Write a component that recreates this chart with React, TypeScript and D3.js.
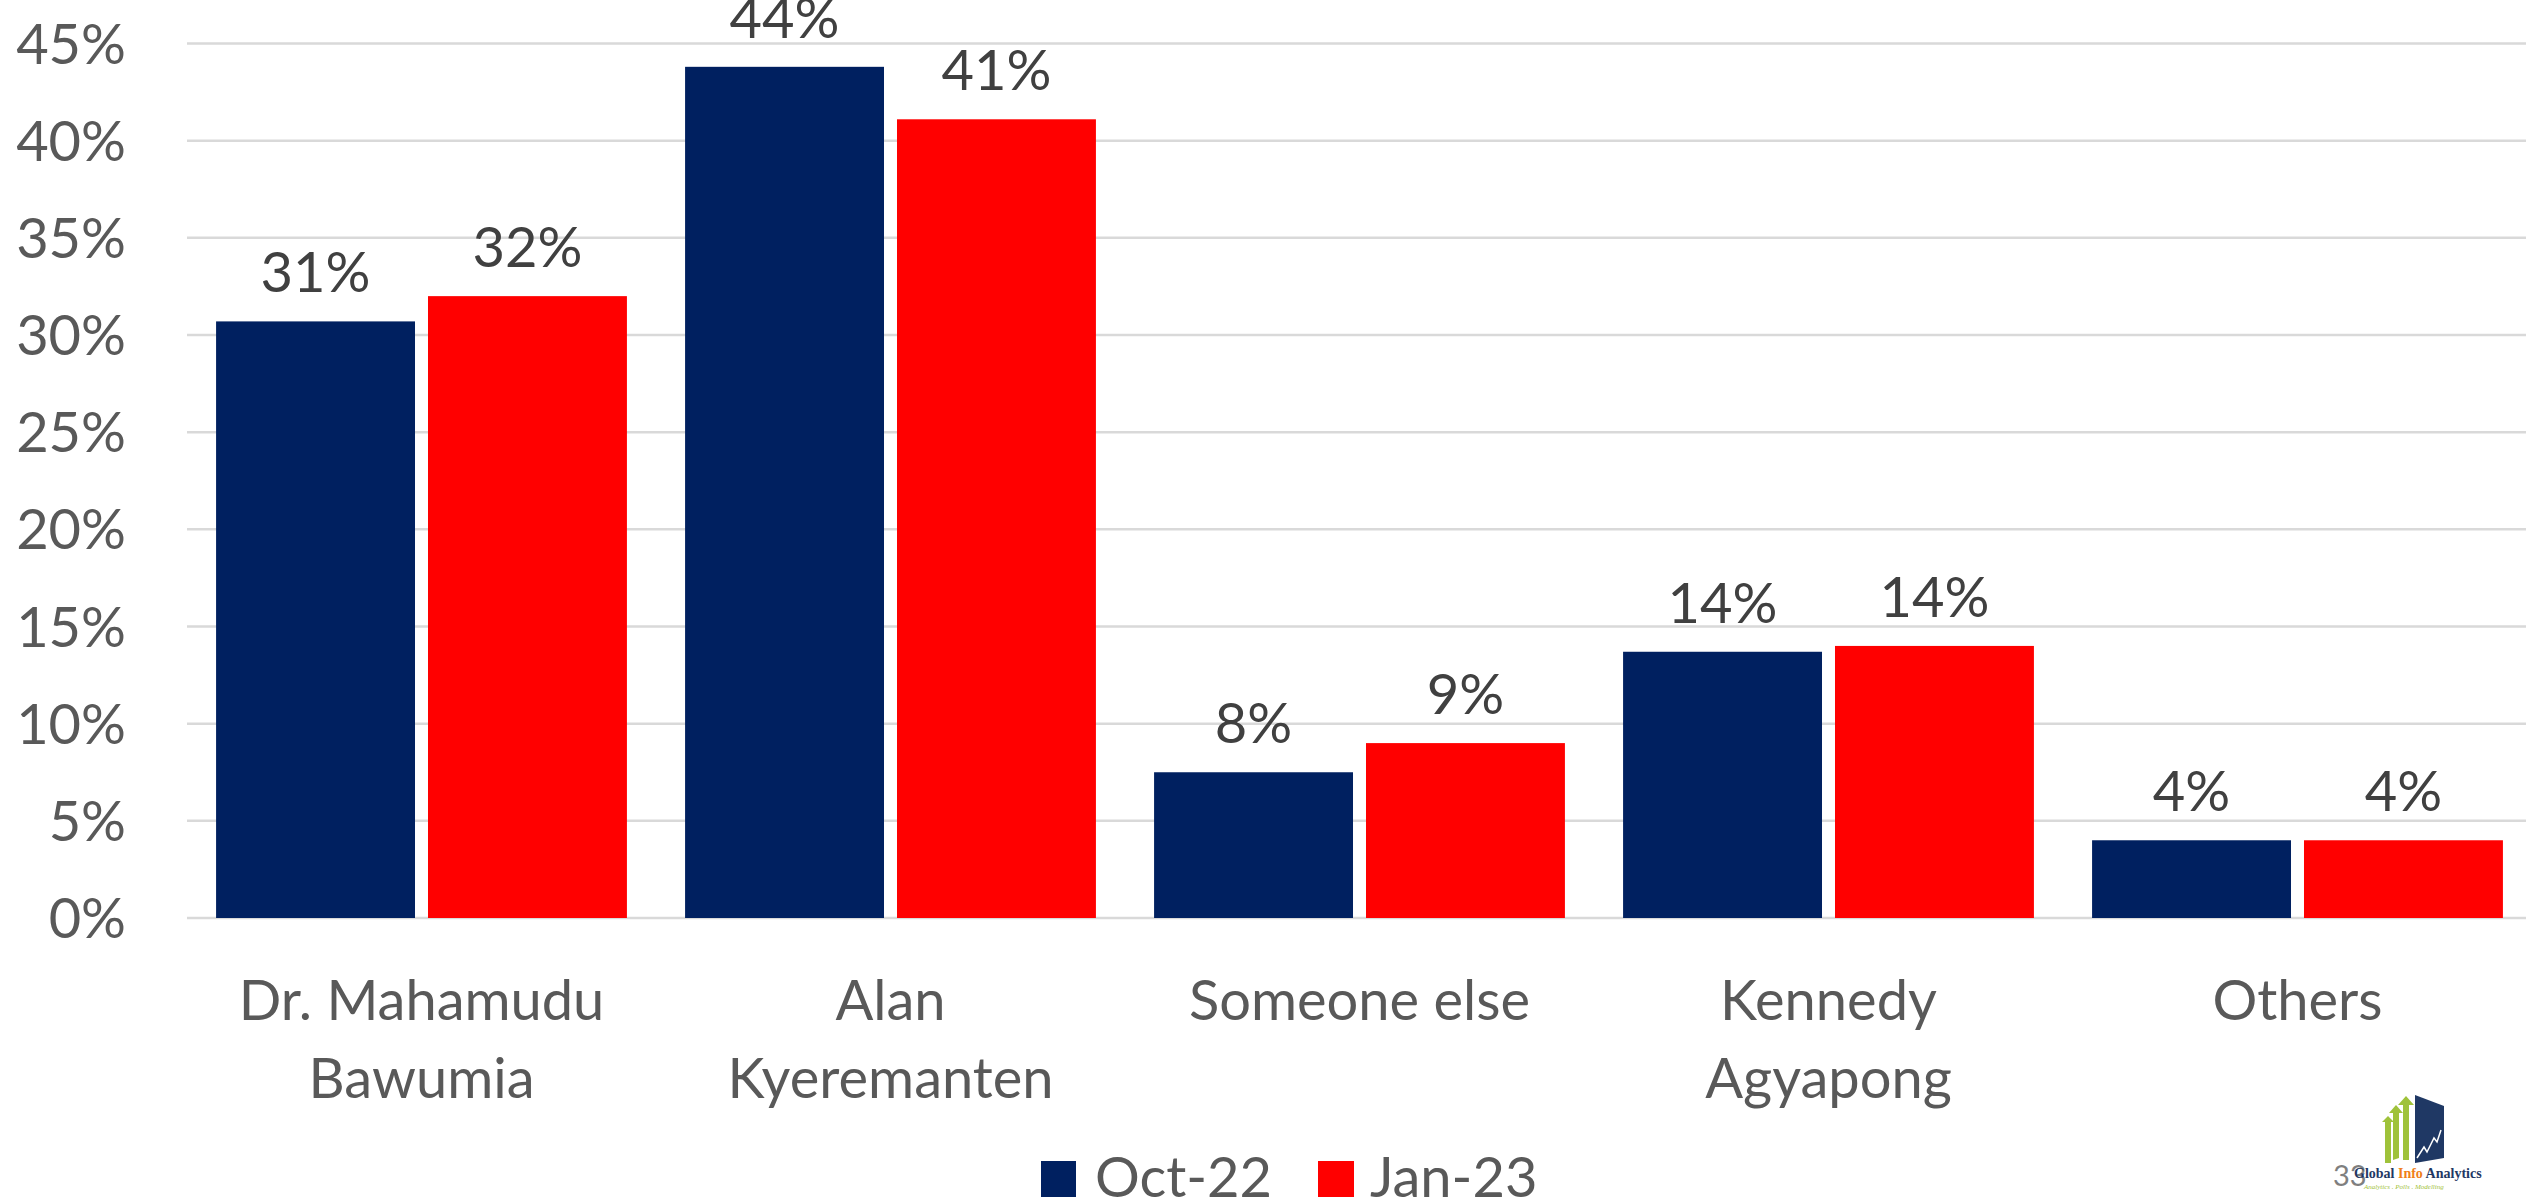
import React from "react";
import * as d3 from "d3";

const categories = [
  ["Dr. Mahamudu", "Bawumia"],
  ["Alan", "Kyeremanten"],
  ["Someone else"],
  ["Kennedy", "Agyapong"],
  ["Others"],
];
const seriesNames = ["Oct-22", "Jan-23"];
const oct22 = [30.7, 43.8, 7.5, 13.7, 4.0];
const jan23 = [32.0, 41.1, 9.0, 14.0, 4.0];
const oct22Labels = ["31%", "44%", "8%", "14%", "4%"];
const jan23Labels = ["32%", "41%", "9%", "14%", "4%"];
const yTicks = [0, 5, 10, 15, 20, 25, 30, 35, 40, 45];

const W = 2526;
const H = 1202;
const FONT = "Lato, 'Open Sans', sans-serif";
const COLORS = ["#002060", "#FF0000"];

export default function App() {
  const catKeys = categories.map((c) => c.join(" "));
  const x = d3
    .scaleBand<string>()
    .domain(catKeys)
    .range([187, 2532])
    .paddingInner(0.124)
    .paddingOuter(0.062);
  const x1 = d3
    .scaleBand<string>()
    .domain(seriesNames)
    .range([0, x.bandwidth()])
    .paddingInner(0.0613);
  const y = d3.scaleLinear().domain([0, 45]).range([918, 43.5]);

  const series = [
    { name: seriesNames[0], values: oct22, labels: oct22Labels, color: COLORS[0] },
    { name: seriesNames[1], values: jan23, labels: jan23Labels, color: COLORS[1] },
  ];

  return (
    <svg
      width={W}
      height={H}
      style={{ position: "absolute", left: 0, top: 0, display: "block", background: "#fff" }}
      fontFamily={FONT}
    >
      {/* gridlines */}
      {yTicks.map((t) => (
        <line key={"g" + t} x1={187} x2={W} y1={y(t)} y2={y(t)} stroke="#d9d9d9" strokeWidth={2.5} />
      ))}
      {/* y tick labels */}
      {yTicks.map((t) => (
        <text
          key={"t" + t}
          x={126}
          y={y(t)}
          dy="0.36em"
          textAnchor="end"
          fontSize={56}
          fill="#595959"
        >
          {t + "%"}
        </text>
      ))}
      {/* bars */}
      {series.map((s) =>
        catKeys.map((c, i) => {
          const bx = (x(c) as number) + (x1(s.name) as number);
          return (
            <g key={s.name + c}>
              <rect
                x={bx}
                y={y(s.values[i])}
                width={x1.bandwidth()}
                height={y(0) - y(s.values[i])}
                fill={s.color}
              />
              <text
                x={bx + x1.bandwidth() / 2}
                y={y(s.values[i]) - 29}
                textAnchor="middle"
                fontSize={56}
                fill="#404040"
              >
                {s.labels[i]}
              </text>
            </g>
          );
        })
      )}
      {/* category labels */}
      {categories.map((lines, i) => (
        <text
          key={"c" + i}
          x={(x(catKeys[i]) as number) + x.bandwidth() / 2}
          y={1020}
          textAnchor="middle"
          fontSize={56}
          fill="#595959"
        >
          {lines.map((l, j) => (
            <tspan key={j} x={(x(catKeys[i]) as number) + x.bandwidth() / 2} y={1020 + j * 78}>
              {l}
            </tspan>
          ))}
        </text>
      ))}
      {/* legend */}
      <rect x={1041} y={1161} width={35} height={36} fill={COLORS[0]} />
      <text x={1095} y={1197} fontSize={56} fill="#595959">
        {seriesNames[0]}
      </text>
      <rect x={1318} y={1161} width={36} height={36} fill={COLORS[1]} />
      <text x={1370} y={1197} fontSize={56} fill="#595959">
        {seriesNames[1]}
      </text>
      {/* logo */}
      <g>
        <polygon points="2385,1163 2385,1122 2382,1122 2388,1116 2394,1122 2391,1122 2391,1163" fill="#9fc23a" />
        <polygon points="2393,1160 2393,1113 2389,1113 2396,1105 2403,1113 2399,1113 2399,1158" fill="#9fc23a" />
        <polygon points="2403,1160 2403,1105 2398,1105 2406,1096 2414,1105 2409,1105 2409,1160" fill="#9fc23a" />
        <polygon points="2415,1095 2444,1106 2444,1158 2415,1163" fill="#1f3864" />
        <polyline points="2417,1158 2424,1147 2427,1152 2434,1138 2437,1142 2441,1130" fill="none" stroke="#fff" strokeWidth={1.5} />
        <text x={2333} y={1186} fontSize={29} fill="#7f7f7f" fontFamily={FONT}>
          33
        </text>
        <text x={2354} y={1178} fontSize={14} fontWeight="bold" fontFamily="'Liberation Serif', serif" fill="#1f3864">
          Global <tspan fill="#f07f1a">Info</tspan> Analytics
        </text>
        <text x={2364} y={1189} fontSize={7} fontStyle="italic" fontFamily="'Liberation Serif', serif" fill="#9fc23a">
          Analytics . Polls . Modelling
        </text>
      </g>
    </svg>
  );
}
